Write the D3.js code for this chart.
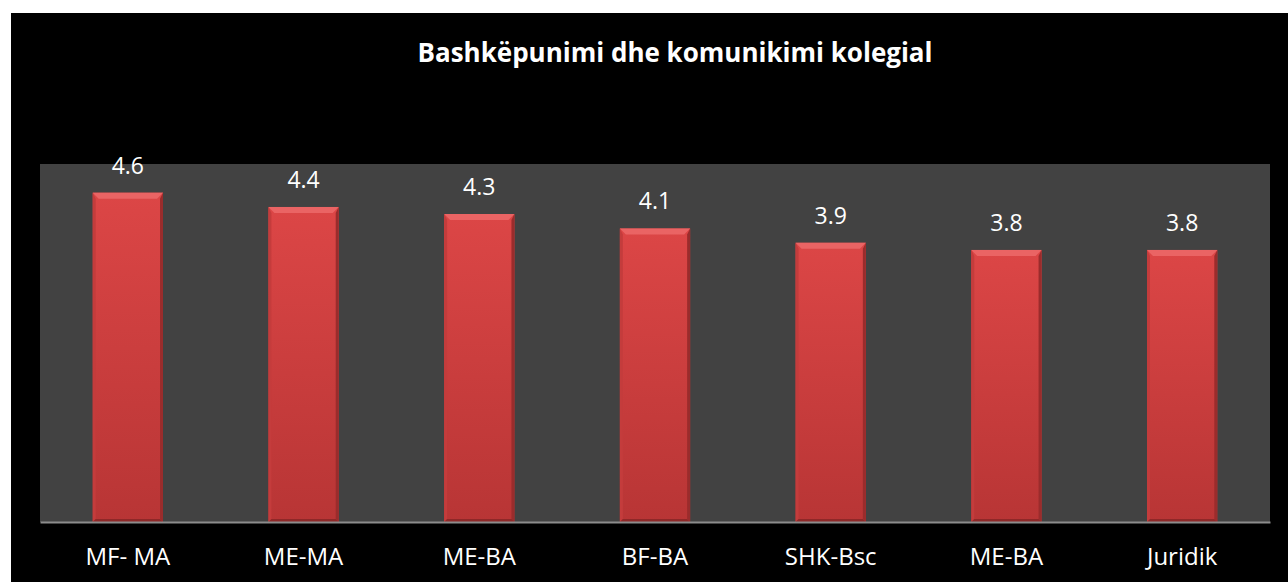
<!DOCTYPE html>
<html>
<head>
<meta charset="utf-8">
<script src="https://cdn.jsdelivr.net/npm/d3@7"></script>
<style>
  body { margin: 0; background: #fff; }
  svg { display: block; }
</style>
</head>
<body>
<div id="chart"></div>
<script>
// chart data
var categories = ["MF- MA", "ME-MA", "ME-BA", "BF-BA", "SHK-Bsc", "ME-BA", "Juridik"];
var values = [4.6, 4.4, 4.3, 4.1, 3.9, 3.8, 3.8];
var titleText = "Bashkëpunimi dhe komunikimi kolegial";

var W = 1288, H = 582;
var margin = {top: 164, right: 18, bottom: 60, left: 40};
var width = W - margin.left - margin.right,
    height = H - margin.top - margin.bottom;

var svg = d3.select("#chart").append("svg")
    .attr("width", W)
    .attr("height", H);

// black chart frame
svg.append("rect")
    .attr("x", 11).attr("y", 13)
    .attr("width", W - 11).attr("height", H - 13)
    .attr("fill", "#000");

svg.append("text")
    .attr("x", 675).attr("y", 62)
    .attr("text-anchor", "middle")
    .attr("fill", "#fff")
    .style("font-family", "'Open Sans', sans-serif")
    .style("font-weight", "bold")
    .style("font-size", "26px")
    .text(titleText);

var g = svg.append("g")
    .attr("transform", "translate(" + margin.left + "," + margin.top + ")");

// plot area
g.append("rect")
    .attr("width", width).attr("height", height)
    .attr("fill", "#424242");

var x = d3.scaleBand()
    .domain(d3.range(categories.length))
    .range([0, width])
    .paddingInner(0.6)
    .paddingOuter(0.3);

var y = d3.scaleLinear()
    .domain([0, 5])
    .range([height, 0]);

// gradient for the bevelled bars
var defs = svg.append("defs");
var grad = defs.append("linearGradient")
    .attr("id", "barFill").attr("x1", 0).attr("y1", 0).attr("x2", 0).attr("y2", 1);
grad.append("stop").attr("offset", "0%").attr("stop-color", "#dc4646");
grad.append("stop").attr("offset", "100%").attr("stop-color", "#b83535");

var data = values.map(function(v, i) { return {i: i, v: v}; });
var bev = 6, side = 3;

var bars = g.selectAll(".bar")
    .data(data)
    .enter()
    .append("g")
    .attr("class", "bar");

bars.append("rect")
    .attr("x", function(d) { return x(d.i); })
    .attr("y", function(d) { return y(d.v); })
    .attr("width", x.bandwidth())
    .attr("height", function(d) { return height - y(d.v); })
    .attr("fill", "url(#barFill)");

// top bevel (lighter)
bars.append("polygon")
    .attr("points", function(d) {
        var x0 = x(d.i), x1 = x0 + x.bandwidth(), t = y(d.v);
        return [[x0, t], [x1, t], [x1 - bev, t + bev], [x0 + bev, t + bev]].join(" ");
    })
    .attr("fill", "#ea6464");

// left bevel
bars.append("polygon")
    .attr("points", function(d) {
        var x0 = x(d.i), t = y(d.v);
        return [[x0, t], [x0 + side, t + bev], [x0 + side, height - side], [x0, height]].join(" ");
    })
    .attr("fill", "#c43c3c");

// right bevel (darker)
bars.append("polygon")
    .attr("points", function(d) {
        var x1 = x(d.i) + x.bandwidth(), t = y(d.v);
        return [[x1, t], [x1 - side, t + bev], [x1 - side, height - side], [x1, height]].join(" ");
    })
    .attr("fill", "#9a2c2c");

// bottom bevel
bars.append("polygon")
    .attr("points", function(d) {
        var x0 = x(d.i), x1 = x0 + x.bandwidth();
        return [[x0, height], [x0 + side, height - side], [x1 - side, height - side], [x1, height]].join(" ");
    })
    .attr("fill", "#8e2828");

// value labels
g.selectAll(".val")
    .data(data)
    .enter()
    .append("text")
    .attr("class", "val")
    .attr("x", function(d) { return x(d.i) + x.bandwidth() / 2; })
    .attr("y", function(d) { return y(d.v) - 19; })
    .attr("text-anchor", "middle")
    .attr("fill", "#fff")
    .style("font-family", "'Open Sans', sans-serif")
    .style("font-size", "23px")
    .text(function(d) { return d.v.toFixed(1); });

// x axis
var xAxis = g.append("g")
    .attr("transform", "translate(0," + height + ")")
    .call(d3.axisBottom(x).tickSize(0).tickPadding(26).tickFormat(function(i) { return categories[i]; }));
xAxis.select(".domain").attr("stroke", "#8c8c8c").attr("stroke-width", 2);
xAxis.selectAll("text")
    .attr("fill", "#fff")
    .style("font-family", "'Open Sans', sans-serif")
    .style("font-size", "24px");
</script>
</body>
</html>
